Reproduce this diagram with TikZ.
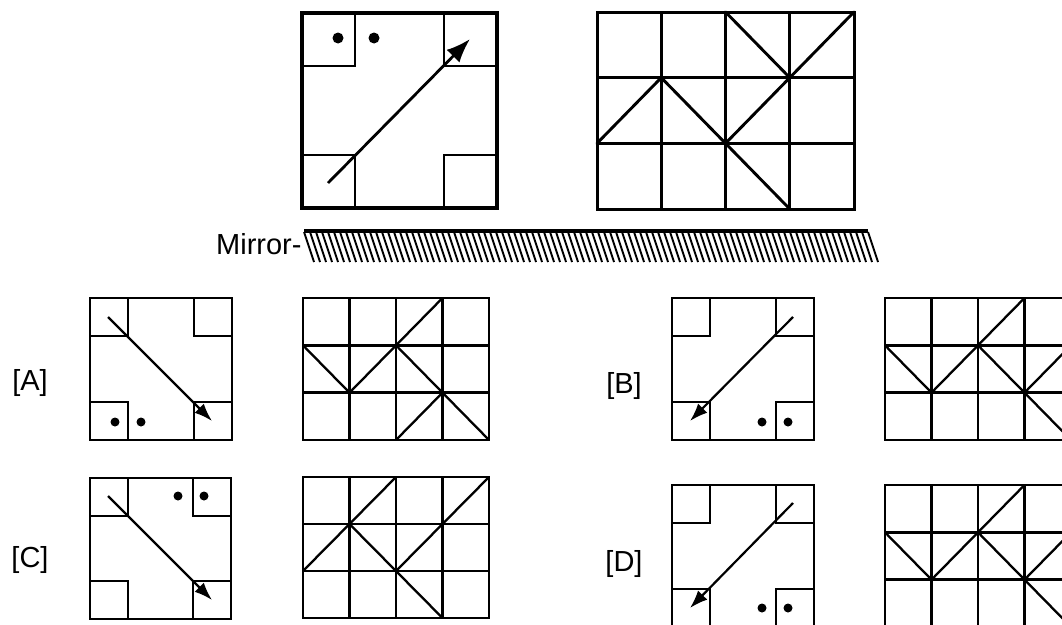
\documentclass[tikz,border=0pt]{standalone}
\usepackage{fontspec}
\setmainfont{Liberation Sans}
\usetikzlibrary{arrows.meta}
\newcommand{\cornerbox}[4]{%
  \draw[line width=#3] (0,0) rectangle (#1,#1);
  \draw[line width=#4] (0,#2) -- (#2,#2) -- (#2,0);
  \draw[line width=#4] (#1-#2,0) -- (#1-#2,#2) -- (#1,#2);
  \draw[line width=#4] (0,#1-#2) -- (#2,#1-#2) -- (#2,#1);
  \draw[line width=#4] (#1-#2,#1) -- (#1-#2,#1-#2) -- (#1,#1-#2);
}
\newcommand{\gridlines}[1]{%
  \draw[line width=#1] (0,0) rectangle (4,3);
  \foreach \i in {1,2,3} \draw[line width=#1] (\i,0) -- (\i,3);
  \foreach \j in {1,2} \draw[line width=#1] (0,\j) -- (4,\j);
}
\tikzset{
  lbl/.style={font=\fontsize{29}{32}\selectfont, inner sep=0pt},
  bigarrow/.style={line width=2.8pt, -{Latex[length=24pt,width=18pt]}},
  smallarrow/.style={line width=2.2pt, -{Latex[length=18pt,width=13pt]}},
  diag/.style={line width=2.9pt, line cap=round},
  sdiag/.style={line width=2.3pt, line cap=round},
  hatch/.style={line width=1.9pt}
}
\begin{document}
\begin{tikzpicture}[x=1pt,y=-1pt]
\path[use as bounding box, clip] (0,0) rectangle (1062,624);

% ---- top figure
\begin{scope}[shift={(302,13)}]
  \cornerbox{195}{53}{3.1pt}{2.7pt}
  \coordinate (ts) at (26,170);
  \coordinate (te) at (168,26);
  \draw[bigarrow] (ts) -- (te);
  \fill (36,25) circle (5.5);
  \fill (72,25) circle (5.5);
\end{scope}

% ---- top grid
\begin{scope}[shift={(597,12)}, xscale=64.25, yscale=65.67]
  \gridlines{3pt}
  \draw[diag] (2,0) -- (3,1);
  \draw[diag] (4,0) -- (3,1) -- (2,2);
  \draw[diag] (0,2) -- (1,1) -- (2,2);
  \draw[diag] (2,2) -- (3,3);
\end{scope}

% ---- mirror
\node[lbl, anchor=base west] (mirror) at (216,254) {Mirror-};
\draw[line width=3.2pt] (304,231) -- (868,231);
\foreach \k in {0,...,94} \draw[hatch] ({304+6*\k},232) -- ({314+6*\k},262);

% ---- labels
\node[lbl] (la) at (30,383) {[A]};
\node[lbl] (lb) at (624,386) {[B]};
\node[lbl] (lc) at (30,560) {[C]};
\node[lbl] (ld) at (624,564) {[D]};

% ---- option A
\begin{scope}[shift={(90,298)}]
  \cornerbox{142}{38}{2.7pt}{2.3pt}
  \coordinate (as) at (18,19);
  \coordinate (ae) at (122,123);
  \draw[smallarrow] (as) -- (ae);
  \fill (25,124) circle (4.5);
  \fill (51,124) circle (4.5);
\end{scope}
\begin{scope}[shift={(303,298)}, xscale=46.5, yscale=47.33]
  \gridlines{2.5pt}
  \draw[sdiag] (2,1) -- (3,0);
  \draw[sdiag] (0,1) -- (1,2) -- (2,1) -- (3,2) -- (4,3);
  \draw[sdiag] (2,3) -- (3,2);
\end{scope}

% ---- option B
\begin{scope}[shift={(672,298)}]
  \cornerbox{142}{38}{2.7pt}{2.3pt}
  \coordinate (bs) at (121,19);
  \coordinate (be) at (18,123);
  \draw[smallarrow] (bs) -- (be);
  \fill (90,124) circle (4.5);
  \fill (116,124) circle (4.5);
\end{scope}
\begin{scope}[shift={(885,298)}, xscale=46.5, yscale=47.33]
  \gridlines{2.5pt}
  \draw[sdiag] (2,1) -- (3,0);
  \draw[sdiag] (0,1) -- (1,2) -- (2,1) -- (3,2) -- (4,3);
  \draw[sdiag] (3,2) -- (4,1);
\end{scope}

% ---- option C
\begin{scope}[shift={(90,478)}]
  \cornerbox{141}{38}{2.7pt}{2.3pt}
  \coordinate (cs) at (18,18);
  \coordinate (ce) at (122,122);
  \draw[smallarrow] (cs) -- (ce);
  \fill (88,18) circle (4.5);
  \fill (114,18) circle (4.5);
\end{scope}
\begin{scope}[shift={(303,477)}, xscale=46.5, yscale=47]
  \gridlines{2.5pt}
  \draw[sdiag] (0,2) -- (1,1) -- (2,0);
  \draw[sdiag] (1,1) -- (2,2) -- (3,1) -- (4,0);
  \draw[sdiag] (2,2) -- (3,3);
\end{scope}

% ---- option D
\begin{scope}[shift={(672,485)}]
  \cornerbox{142}{38}{2.7pt}{2.3pt}
  \coordinate (ds) at (121,18);
  \coordinate (de) at (18,123);
  \draw[smallarrow] (ds) -- (de);
  \fill (90,123) circle (4.5);
  \fill (116,123) circle (4.5);
\end{scope}
\begin{scope}[shift={(885,485)}, xscale=46.5, yscale=47.33]
  \gridlines{2.5pt}
  \draw[sdiag] (2,1) -- (3,0);
  \draw[sdiag] (0,1) -- (1,2) -- (2,1) -- (3,2) -- (4,3);
  \draw[sdiag] (3,2) -- (4,1);
\end{scope}
\end{tikzpicture}
\end{document}
